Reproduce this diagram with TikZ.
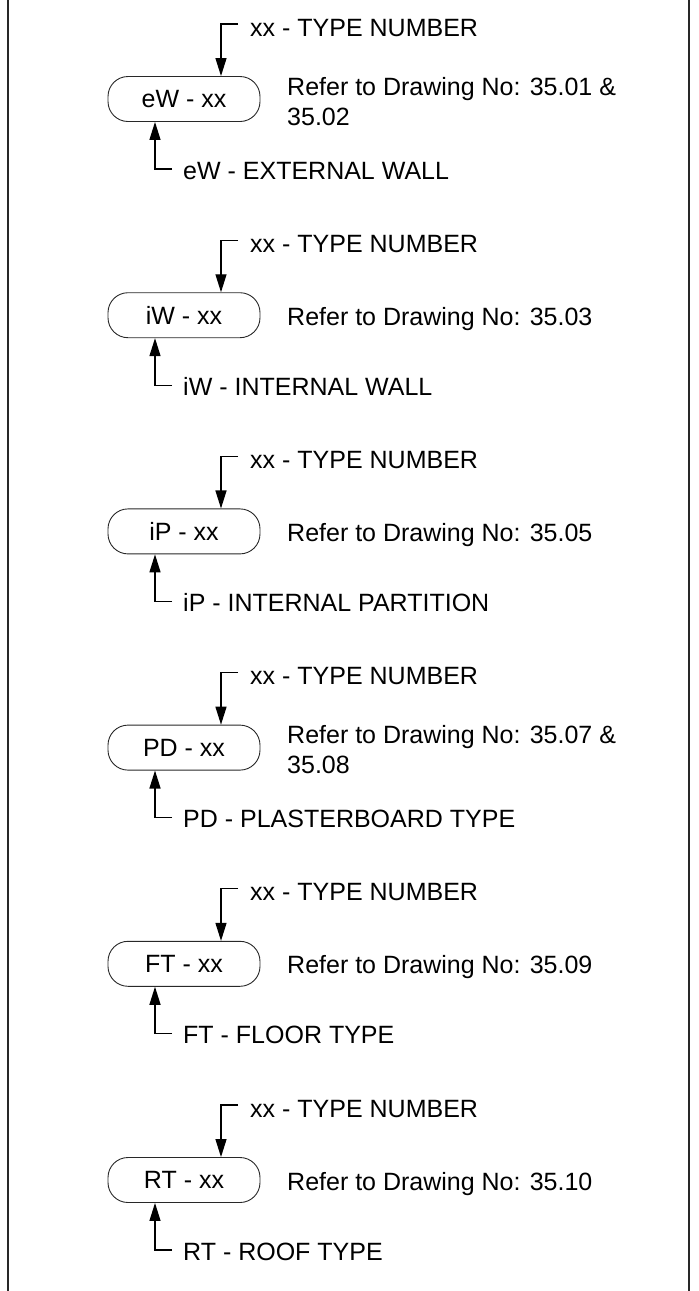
\documentclass[tikz,border=0pt]{standalone}
\usepackage{fontspec}
\setmainfont{Liberation Sans}
\usepackage{tikz}
\usetikzlibrary{arrows.meta, positioning, calc}
\definecolor{inkgrey}{RGB}{40, 40, 40}

\tikzset{
  tagbox/.style={draw=inkgrey, line width=0.9pt, rounded corners=20pt,
    minimum width=152pt, minimum height=45pt, inner sep=0pt},
  lbl/.style={anchor=base west, inner sep=0pt, align=left},
  ptr/.style={line width=1.3pt, -{Triangle[length=18pt, width=11pt]}}
}

\begin{document}
\begin{tikzpicture}[x=1pt, y=-1pt, font=\fontsize{25}{30}\selectfont]
  \useasboundingbox (0,0) rectangle (699,1291);
  % cornice
  \draw[line width=1.8pt, inkgrey] (8,0) -- (8,1291);
  \draw[line width=1.8pt, inkgrey] (689,0) -- (689,1291);

  % parete esterna
  \begin{scope}
    \node[tagbox] (box1) at (184,99) {eW - xx};
    \node[lbl] (num1) at (250,36) {xx - TYPE NUMBER};
    \node[lbl] (ref1) at (287,125) {Refer to Drawing No: 35.01 \&\\35.02};
    \node[lbl] (key1) at (183,179) {eW - EXTERNAL WALL};
    \coordinate (tick1) at (238,24);
    \coordinate (top1) at (221,24);
    \coordinate (kick1) at (172,169);
    \coordinate (bot1) at (155,169);
    \draw[ptr] (tick1) -- (top1) -- (top1 |- box1.north);
    \draw[ptr] (kick1) -- (bot1) -- (bot1 |- box1.south);
  \end{scope}

  % parete interna
  \begin{scope}[yshift=-216.2pt]
    \node[tagbox] (box2) at (184,99) {iW - xx};
    \node[lbl] (num2) at (250,36) {xx - TYPE NUMBER};
    \node[lbl] (ref2) at (287,109) {Refer to Drawing No: 35.03};
    \node[lbl] (key2) at (183,179) {iW - INTERNAL WALL};
    \coordinate (tick2) at (238,24);
    \coordinate (top2) at (221,24);
    \coordinate (kick2) at (172,169);
    \coordinate (bot2) at (155,169);
    \draw[ptr] (tick2) -- (top2) -- (top2 |- box2.north);
    \draw[ptr] (kick2) -- (bot2) -- (bot2 |- box2.south);
  \end{scope}

  % tramezzo
  \begin{scope}[yshift=-432.4pt]
    \node[tagbox] (box3) at (184,99) {iP - xx};
    \node[lbl] (num3) at (250,36) {xx - TYPE NUMBER};
    \node[lbl] (ref3) at (287,109) {Refer to Drawing No: 35.05};
    \node[lbl] (key3) at (183,179) {iP - INTERNAL PARTITION};
    \coordinate (tick3) at (238,24);
    \coordinate (top3) at (221,24);
    \coordinate (kick3) at (172,169);
    \coordinate (bot3) at (155,169);
    \draw[ptr] (tick3) -- (top3) -- (top3 |- box3.north);
    \draw[ptr] (kick3) -- (bot3) -- (bot3 |- box3.south);
  \end{scope}

  % cartongesso
  \begin{scope}[yshift=-648.6pt]
    \node[tagbox] (box4) at (184,99) {PD - xx};
    \node[lbl] (num4) at (250,36) {xx - TYPE NUMBER};
    \node[lbl] (ref4) at (287,125) {Refer to Drawing No: 35.07 \&\\35.08};
    \node[lbl] (key4) at (183,179) {PD - PLASTERBOARD TYPE};
    \coordinate (tick4) at (238,24);
    \coordinate (top4) at (221,24);
    \coordinate (kick4) at (172,169);
    \coordinate (bot4) at (155,169);
    \draw[ptr] (tick4) -- (top4) -- (top4 |- box4.north);
    \draw[ptr] (kick4) -- (bot4) -- (bot4 |- box4.south);
  \end{scope}

  % solaio
  \begin{scope}[yshift=-864.8pt]
    \node[tagbox] (box5) at (184,99) {FT - xx};
    \node[lbl] (num5) at (250,36) {xx - TYPE NUMBER};
    \node[lbl] (ref5) at (287,109) {Refer to Drawing No: 35.09};
    \node[lbl] (key5) at (183,179) {FT - FLOOR TYPE};
    \coordinate (tick5) at (238,24);
    \coordinate (top5) at (221,24);
    \coordinate (kick5) at (172,169);
    \coordinate (bot5) at (155,169);
    \draw[ptr] (tick5) -- (top5) -- (top5 |- box5.north);
    \draw[ptr] (kick5) -- (bot5) -- (bot5 |- box5.south);
  \end{scope}

  % copertura
  \begin{scope}[yshift=-1081pt]
    \node[tagbox] (box6) at (184,99) {RT - xx};
    \node[lbl] (num6) at (250,36) {xx - TYPE NUMBER};
    \node[lbl] (ref6) at (287,109) {Refer to Drawing No: 35.10};
    \node[lbl] (key6) at (183,179) {RT - ROOF TYPE};
    \coordinate (tick6) at (238,24);
    \coordinate (top6) at (221,24);
    \coordinate (kick6) at (172,169);
    \coordinate (bot6) at (155,169);
    \draw[ptr] (tick6) -- (top6) -- (top6 |- box6.north);
    \draw[ptr] (kick6) -- (bot6) -- (bot6 |- box6.south);
  \end{scope}
\end{tikzpicture}
\end{document}
